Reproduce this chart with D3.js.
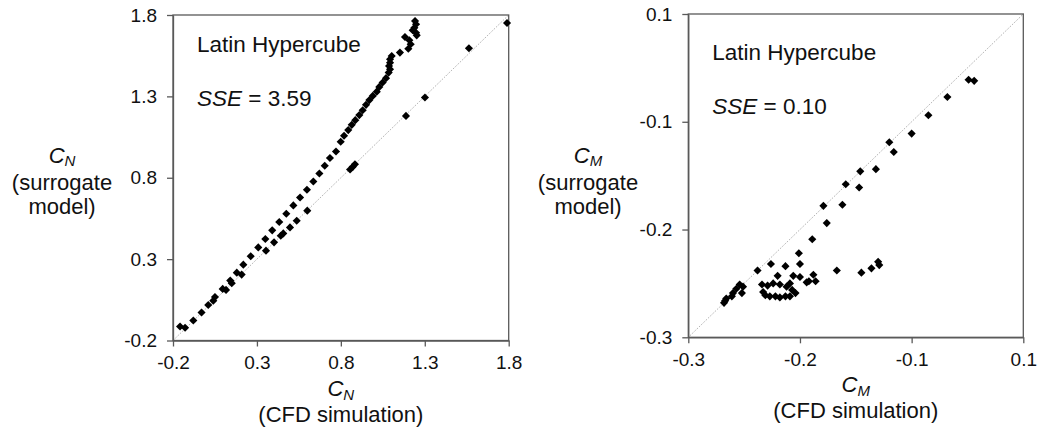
<!DOCTYPE html>
<meta charset="utf-8">
<style>
body{margin:0;background:#fff;}
svg{font-family:"Liberation Sans",Arial,sans-serif;}
.axis path,.axis line{stroke:#595959;stroke-width:1.3px;}
.axis text{font-size:19px;fill:#111;font-family:"Liberation Sans",Arial,sans-serif;}
.frame{fill:none;stroke:#595959;stroke-width:1.3px;}
.diag{stroke:#9a9a9a;stroke-width:1px;stroke-dasharray:1,1.5;fill:none;}
.note{font-size:22.5px;fill:#111;}
.title{font-size:22px;fill:#111;text-anchor:middle;}
</style>
<body>
<script src="https://d3js.org/d3.v7.min.js"></script>
<script>

// ---- data ----
// C_N panel: CFD simulation (x) vs surrogate model (y)
var cnCfd = [-0.158,-0.128,-0.079,-0.030,0.010,0.050,0.040,0.096,0.116,0.141,0.150,0.180,0.209,0.219,
  0.263,0.308,0.354,0.350,0.391,0.402,0.433,0.442,0.457,0.475,0.497,0.517,0.537,0.557,0.600,0.598,
  0.636,0.672,0.704,0.735,0.771,0.799,0.819,0.844,0.865,0.886,0.910,0.930,0.950,0.970,0.990,1.014,
  1.029,1.049,1.069,1.085,1.093,1.087,1.093,1.093,1.103,1.152,1.202,1.216,1.208,1.182,1.252,1.248,
  1.228,1.238,1.248,1.242,0.871,0.855,0.884,1.188,1.301,1.563,1.790];
var cnSur = [-0.114,-0.122,-0.077,-0.028,0.018,0.067,0.045,0.117,0.111,0.168,0.152,0.217,0.205,0.266,
  0.318,0.372,0.352,0.424,0.477,0.403,0.528,0.444,0.458,0.579,0.495,0.630,0.536,0.679,0.598,0.726,
  0.777,0.826,0.874,0.921,0.961,1.021,1.058,1.093,1.125,1.154,1.185,1.215,1.248,1.277,1.303,1.329,
  1.358,1.385,1.412,1.446,1.467,1.487,1.507,1.528,1.548,1.569,1.593,1.620,1.645,1.665,1.675,1.691,
  1.706,1.722,1.743,1.763,0.867,0.851,0.883,1.180,1.293,1.596,1.751];

// C_M panel
var cmCfd = [-0.049,-0.044,-0.068,-0.085,-0.100,-0.120,-0.116,-0.132,-0.146,-0.159,-0.147,-0.179,-0.162,
  -0.176,-0.189,-0.201,-0.200,-0.226,-0.213,-0.238,-0.167,-0.130,-0.129,-0.136,-0.145,-0.220,-0.206,
  -0.200,-0.188,-0.192,-0.186,-0.194,-0.209,-0.234,-0.251,-0.254,-0.257,-0.252,-0.260,-0.261,-0.266,
  -0.268,-0.267,-0.233,-0.231,-0.227,-0.222,-0.218,-0.213,-0.209,-0.204,-0.207,-0.212,-0.218,-0.224,-0.229];
var cmSur = [-0.061,-0.062,-0.077,-0.094,-0.111,-0.119,-0.128,-0.144,-0.146,-0.158,-0.161,-0.178,-0.177,
  -0.194,-0.209,-0.222,-0.232,-0.232,-0.234,-0.238,-0.238,-0.230,-0.233,-0.236,-0.240,-0.243,-0.243,
  -0.244,-0.242,-0.248,-0.248,-0.249,-0.250,-0.251,-0.253,-0.251,-0.255,-0.259,-0.259,-0.262,-0.264,
  -0.268,-0.266,-0.258,-0.261,-0.262,-0.262,-0.263,-0.262,-0.262,-0.259,-0.256,-0.253,-0.251,-0.250,-0.252];

var cnTicks = [-0.2, 0.3, 0.8, 1.3, 1.8];
var cnTickLabels = ["-0.2", "0.3", "0.8", "1.3", "1.8"];
var cmTicks = [-0.3, -0.2, -0.1, 0];
var cmTickLabels = ["-0.3", "-0.2", "-0.1", "0.1"];

var svg = d3.select("body").append("svg")
    .attr("width", 1040)
    .attr("height", 433);

// one scatter panel
function panel(opt) {
  var x = d3.scaleLinear().domain(opt.domain).range([opt.left, opt.right]);
  var y = d3.scaleLinear().domain(opt.domain).range([opt.bottom, opt.top]);
  var g = svg.append("g");

  // y = x reference line
  g.append("line")
      .attr("class", "diag")
      .attr("x1", x(opt.domain[0])).attr("y1", y(opt.domain[0]))
      .attr("x2", x(opt.domain[1])).attr("y2", y(opt.domain[1]));

  g.append("rect")
      .attr("class", "frame")
      .attr("x", opt.left).attr("y", opt.top)
      .attr("width", opt.right - opt.left)
      .attr("height", opt.bottom - opt.top);

  g.append("g")
      .attr("class", "axis")
      .attr("transform", "translate(0," + opt.bottom + ")")
      .call(d3.axisBottom(x).tickValues(opt.ticks).tickSize(6).tickSizeOuter(0).tickPadding(9)
        .tickFormat(function(d, i) { return opt.labels[i]; }));

  g.append("g")
      .attr("class", "axis")
      .attr("transform", "translate(" + opt.left + ",0)")
      .call(d3.axisLeft(y).tickValues(opt.ticks).tickSize(6).tickSizeOuter(0).tickPadding(10)
        .tickFormat(function(d, i) { return opt.labels[i]; }));

  var pts = opt.xs.map(function(v, i) { return [v, opt.ys[i]]; });
  g.selectAll(".pt")
      .data(pts)
      .enter()
      .append("path")
        .attr("class", "pt")
        .attr("d", d3.symbol(d3.symbolSquare, 33))
        .attr("fill", "#000")
        .attr("transform", function(d) { return "translate(" + x(d[0]) + "," + y(d[1]) + ") rotate(45)"; });

  // notes in the plot
  g.append("text").attr("class", "note")
      .attr("x", opt.left + 24).attr("y", opt.noteY)
      .text("Latin Hypercube");
  var sse = g.append("text").attr("class", "note")
      .attr("x", opt.left + 24).attr("y", opt.noteY + 54);
  sse.append("tspan").style("font-style", "italic").text("SSE");
  sse.append("tspan").text(" = " + opt.sse);

  // x title
  var cx = (opt.left + opt.right) / 2;
  var xt = g.append("text").attr("class", "title").attr("x", cx).attr("y", opt.bottom + 55);
  xt.append("tspan").style("font-style", "italic").text("C");
  xt.append("tspan").style("font-style", "italic").attr("font-size", 15).attr("dy", 4).text(opt.sub);
  g.append("text").attr("class", "title").attr("x", cx).attr("y", opt.bottom + 81).text("(CFD simulation)");

  // y title
  var yt = g.append("text").attr("class", "title").attr("x", opt.yTitleX).attr("y", 163);
  yt.append("tspan").style("font-style", "italic").text("C");
  yt.append("tspan").style("font-style", "italic").attr("font-size", 15).attr("dy", 3).text(opt.sub);
  g.append("text").attr("class", "title").attr("x", opt.yTitleX).attr("y", 190).text("(surrogate");
  g.append("text").attr("class", "title").attr("x", opt.yTitleX).attr("y", 214).text("model)");
}

panel({
  domain: [-0.2, 1.8], left: 173, right: 508.7, top: 15, bottom: 340.5,
  ticks: cnTicks, labels: cnTickLabels, xs: cnCfd, ys: cnSur,
  sse: "3.59", sub: "N", noteY: 52, yTitleX: 62
});

panel({
  domain: [-0.3, 0], left: 688.3, right: 1023.3, top: 14, bottom: 337.3,
  ticks: cmTicks, labels: cmTickLabels, xs: cmCfd, ys: cmSur,
  sse: "0.10", sub: "M", noteY: 60, yTitleX: 588
});

</script>
</body>
